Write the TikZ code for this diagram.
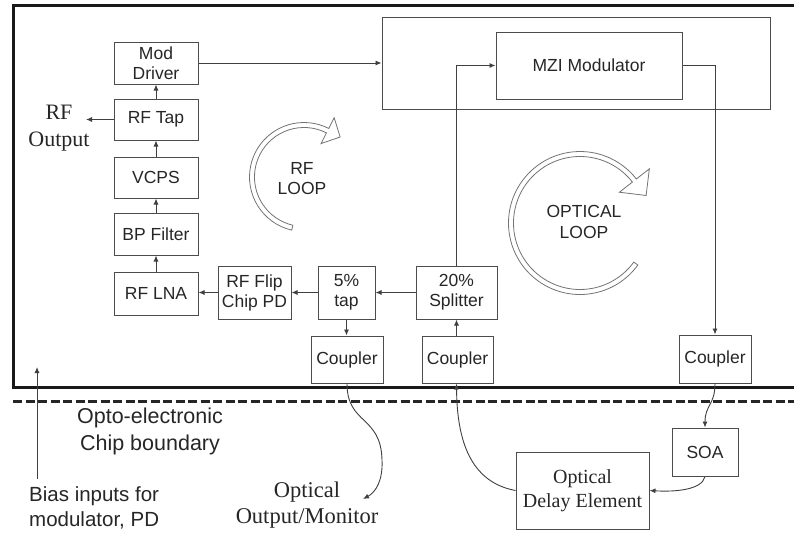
\documentclass[tikz,border=0pt]{standalone}
\usepackage{fontspec}
\setmainfont{Liberation Sans}
\newfontfamily\serf{Liberation Serif}
\usetikzlibrary{arrows.meta}
\begin{document}
\begin{tikzpicture}[x=1pt,y=-1pt,
  box/.style={draw=black!70, line width=1pt, rectangle, inner sep=0pt, align=center,
    font=\fontsize{17.5}{20}\selectfont, text=black!85},
  conn/.style={draw=black!75, line width=0.9pt, -{Latex[length=6pt,width=5pt]}},
  plain/.style={draw=black!75, line width=0.9pt},
  loopline/.style={draw=black!55, line width=0.8pt},
  lbl/.style={text=black!85, inner sep=0pt, align=center}]
\useasboundingbox (0,0) rectangle (794,533);
\clip (0,0) rectangle (794,533);
% chip boundary
\draw[line width=3pt, black!90] (800,5.5) -- (13.5,5.5) -- (13.5,387) -- (800,387);
\draw[line width=3pt, black!85, dash pattern=on 9pt off 3.5pt] (13,401) -- (800,401);
% boxes
\node[box, minimum width=84pt, minimum height=42pt] (moddrv) at (156,63) {Mod\\Driver};
\node[box, minimum width=84pt, minimum height=41pt] (rftap) at (156,119.5) {RF Tap};
\node[box, minimum width=84pt, minimum height=41pt] (vcps) at (156,177.5) {VCPS};
\node[box, minimum width=84pt, minimum height=42pt] (bpf) at (156,234) {BP Filter};
\node[box, minimum width=84pt, minimum height=43pt] (lna) at (156,293.5) {RF LNA};
\node[box, minimum width=73pt, minimum height=53pt] (pd) at (254.5,292.5) {RF Flip\\Chip PD};
\node[box, minimum width=57pt, minimum height=53pt] (tap) at (346.5,292.5) {5\%\\tap};
\node[box, minimum width=72pt, minimum height=47pt] (coupL) at (347,359.5) {Coupler};
\node[box, minimum width=81pt, minimum height=53pt] (split) at (456.5,292.5) {20\%\\Splitter};
\node[box, minimum width=71pt, minimum height=47pt] (coupM) at (457.5,359.5) {Coupler};
\node[box, minimum width=72pt, minimum height=48pt] (coupR) at (715,359) {Coupler};
\node[box, minimum width=388pt, minimum height=92pt] (big) at (576,63) {};
\node[box, minimum width=186pt, minimum height=67pt] (mzi) at (589,65.5) {MZI Modulator};
\node[box, minimum width=66pt, minimum height=48pt] (soa) at (705,452) {SOA};
\node[box, minimum width=133pt, minimum height=77pt, font=\serf\fontsize{20}{24}\selectfont] (ode) at (582.5,490.5) {Optical\\Delay Element};
% labels
\node[lbl, font=\serf\fontsize{22}{27}\selectfont] (rfout) at (59,128) {RF\\Output};
\node[lbl, font=\fontsize{21.5}{27}\selectfont] (chipb) at (150,431.5) {Opto-electronic\\Chip boundary};
\node[lbl, align=left, anchor=west, font=\fontsize{20.5}{25}\selectfont] (bias) at (29,507.5) {Bias inputs for\\modulator, PD};
\node[lbl, font=\serf\fontsize{22.5}{26}\selectfont] (optout) at (307,505) {Optical\\Output/Monitor};
\node[lbl, font=\fontsize{17.5}{20}\selectfont] (rfloop) at (302,179) {RF\\LOOP};
\node[lbl, font=\fontsize{17.5}{21}\selectfont] (oploop) at (584,221.5) {OPTICAL\\LOOP};
% free ends
\coordinate (rfo) at (86,119.5);
\coordinate (biasS) at (37,479);
\coordinate (biasT) at (37,367);
\coordinate (ooend) at (363,499);
% connectors
\draw[conn] (moddrv.east) -- (moddrv.east -| big.west);
\draw[conn] (rftap.north) -- (moddrv.south);
\draw[conn] (vcps.north) -- (rftap.south);
\draw[conn] (bpf.north) -- (vcps.south);
\draw[conn] (lna.north) -- (bpf.south);
\draw[conn] (rftap.west) -- (rfo);
\draw[conn] (pd.west) -- (pd.west -| lna.east);
\draw[conn] (tap.west) -- (pd.east);
\draw[conn] (split.west) -- (tap.east);
\draw[conn] (tap.south) -- (tap.south |- coupL.north);
\draw[conn] (coupM.north -| split.south) -- (split.south);
\draw[conn] (split.north) |- (mzi.west);
\draw[conn] (mzi.east) -| (coupR.north);
\draw[conn] (coupR.south) .. controls (715,405) and (705,405) .. (soa.north);
\draw[conn] (soa.south) .. controls (702,490) and (675,492) .. (ode.east);
\draw[conn] (ode.west) .. controls (470,482) and (457,440) .. (coupM.south -| split.south);
\draw[conn] (coupL.south) .. controls (347,425) and (381,415) .. (382,460) .. controls (383,480) and (376,492) .. (ooend);
\draw[conn] (biasS) -- (biasT);
% loops
\begin{scope}[shift={(304,177)}]
\draw[loopline] (-103:54.5pt) arc[start angle=-103, end angle=-297, radius=54.5pt]
  -- (-297:66.5pt) -- (-312.1:53.9pt) -- (-297:37.5pt) -- (-297:49.5pt)
  arc[start angle=-297, end angle=-103, radius=49.5pt] -- cycle;
\end{scope}
\begin{scope}[shift={(580,223)}]
\draw[loopline] (-36:71.5pt) arc[start angle=-36, end angle=-322, radius=71.5pt]
  -- (-322:88pt) -- (-337.4:71.6pt) -- (-322:50pt) -- (-322:66.5pt)
  arc[start angle=-322, end angle=-36, radius=66.5pt] -- cycle;
\end{scope}
\end{tikzpicture}
\end{document}
